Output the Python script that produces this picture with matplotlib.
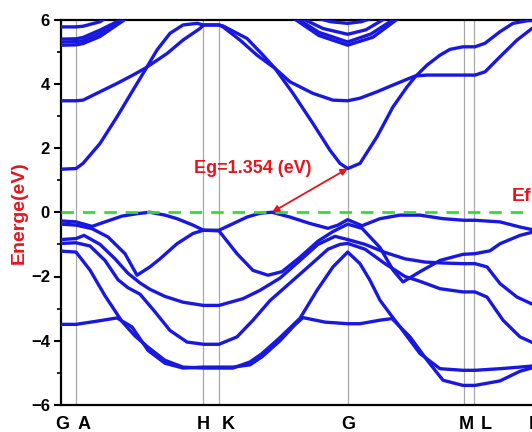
import matplotlib.pyplot as plt
import numpy as np

# k-path (arbitrary distance units) and labels
kpt_pos = [0, 15, 142.5, 158, 286.7, 403, 413, 474]
kpt_labels = ['G', 'A', 'H', 'K', 'G', 'M', 'L', 'H']
label_shift = [1, 8, 0, 9, 1, 2, 12, 0]

# conduction bands: (k, E) nodes
cb1 = [(0, 1.34), (15, 1.36), (22, 1.52), (39, 2.14), (56, 2.97), (72, 3.8), (84, 4.42), (96, 5.05),
       (109, 5.57), (122, 5.83), (136, 5.88), (142.5, 5.83), (158, 5.83), (162, 5.77), (179, 5.36),
       (196, 4.89), (214, 4.48), (232, 3.7), (252, 2.76), (269, 1.93), (279, 1.52), (286.7, 1.36),
       (299, 1.52), (316, 2.35), (332, 3.28), (346, 3.9), (354, 4.21), (366, 4.58), (379, 4.89),
       (389, 5.07), (402, 5.15), (414, 5.15), (424, 5.26), (439, 5.62), (452, 5.88), (466, 5.96), (474, 5.97)]
cb2 = [(0, 3.47), (15, 3.47), (22, 3.49), (39, 3.75), (56, 4.01), (72, 4.27), (84, 4.48), (106, 4.94),
       (122, 5.36), (139, 5.72), (142.5, 5.83), (158, 5.83), (162, 5.8), (186, 5.41), (202, 4.89),
       (214, 4.48), (229, 4.06), (252, 3.7), (272, 3.49), (286.7, 3.47), (299, 3.55), (316, 3.75),
       (332, 3.96), (354, 4.24), (366, 4.27), (402, 4.27), (414, 4.27), (424, 4.37), (439, 4.84),
       (456, 5.36), (471, 5.72), (474, 5.78)]
top1 = [(0, 5.77), (15, 5.77), (22, 5.79), (39, 5.93), (45, 6.05)]
top2 = [(0, 5.39), (15, 5.40), (22, 5.44), (39, 5.67), (56, 5.93), (62, 6.05)]
top3 = [(0, 5.30), (15, 5.31), (22, 5.34), (39, 5.57), (59, 5.93), (65, 6.05)]
top4 = [(0, 5.20), (15, 5.21), (22, 5.25), (39, 5.47), (62, 5.96), (66, 6.05)]
mid1 = [(255, 6.05), (270, 5.93), (286.7, 5.88), (300, 5.93), (312, 6.05)]
mid2 = [(240, 6.05), (262, 5.72), (286.7, 5.54), (305, 5.68), (325, 6.05)]
mid3 = [(235, 6.05), (258, 5.6), (286.7, 5.3), (310, 5.55), (335, 6.05)]
mid4 = [(232, 6.05), (258, 5.5), (286.7, 5.2), (312, 5.45), (338, 6.05)]

# valence bands
vb1 = [(0, -0.27), (15, -0.30), (31, -0.44), (44, -0.30), (61, -0.12), (77, -0.04), (89, 0.0), (104, -0.09),
       (116, -0.2), (132, -0.4), (142.5, -0.56), (158, -0.56), (169, -0.4), (186, -0.15), (199, -0.03),
       (211, 0.0), (229, -0.15), (249, -0.35), (267, -0.5), (277, -0.4), (286.7, -0.23), (301, -0.42),
       (319, -0.2), (339, -0.09), (359, -0.09), (382, -0.2), (403, -0.25), (414, -0.25), (439, -0.3),
       (459, -0.46), (474, -0.56)]
vb2 = [(0, -0.37), (15, -0.40), (31, -0.51), (47, -0.77), (64, -1.29), (76, -1.96), (89, -1.7), (99, -1.45),
       (116, -0.98), (132, -0.66), (142.5, -0.56), (158, -0.58), (176, -1.29), (192, -1.81), (207, -1.96),
       (221, -1.85), (239, -1.4), (257, -0.9), (272, -0.6), (286.7, -0.37), (301, -0.5), (319, -1.1),
       (332, -1.8), (342, -2.17), (359, -1.85), (379, -1.5), (402, -1.31), (414, -1.29), (429, -1.2),
       (439, -0.98), (459, -0.72), (474, -0.6)]
vb3 = [(0, -0.85), (15, -0.82), (23, -0.72), (39, -1.0), (54, -1.45), (67, -1.9), (79, -2.2), (89, -2.4),
       (104, -2.62), (122, -2.8), (142.5, -2.9), (158, -2.9), (182, -2.69), (199, -2.43), (219, -2.05),
       (239, -1.5), (257, -1.0), (274, -0.75), (286.7, -0.85), (304, -1.0), (324, -1.25), (344, -1.45),
       (364, -1.55), (382, -1.58), (402, -1.6), (414, -1.6), (426, -1.7), (439, -2.22), (456, -2.64), (474, -2.9)]
vb4 = [(0, -0.97), (15, -0.95), (29, -1.05), (44, -1.5), (57, -2.1), (67, -2.35), (79, -2.55), (94, -3.1),
       (109, -3.68), (126, -4.04), (142.5, -4.11), (158, -4.11), (176, -3.88), (192, -3.36), (209, -2.75),
       (229, -2.2), (249, -1.65), (267, -1.15), (279, -1.0), (286.7, -0.97), (304, -1.15), (324, -1.6),
       (344, -2.0), (359, -2.15), (379, -2.38), (402, -2.48), (414, -2.48), (426, -2.64), (442, -3.36),
       (459, -3.88), (474, -4.09)]
vb5 = [(0, -1.21), (15, -1.24), (29, -1.8), (44, -2.6), (61, -3.4), (74, -3.85), (87, -4.2), (104, -4.61),
       (122, -4.82), (142.5, -4.85), (172, -4.85), (189, -4.66), (201, -4.4), (219, -3.9), (239, -3.3),
       (256, -2.43), (272, -1.7), (286.7, -1.24), (299, -1.6), (309, -2.12), (319, -2.74), (329, -3.16),
       (339, -3.57), (359, -4.4), (379, -4.87), (402, -4.92), (414, -4.92), (439, -4.87), (459, -4.82), (474, -4.78)]
vb6 = [(0, -3.49), (15, -3.49), (34, -3.4), (56, -3.29), (71, -3.57), (87, -4.3), (104, -4.7), (122, -4.85),
       (142.5, -4.82), (172, -4.82), (189, -4.75), (201, -4.5), (219, -4.0), (234, -3.5), (242, -3.28),
       (264, -3.42), (286.7, -3.47), (299, -3.47), (319, -3.36), (331, -3.31), (349, -3.88), (366, -4.6),
       (382, -5.23), (402, -5.39), (414, -5.39), (439, -5.25), (459, -4.95), (474, -4.82)]

bands = [cb1, cb2, top1, top2, top3, top4, mid1, mid2, mid3, mid4, vb1, vb2, vb3, vb4, vb5, vb6]

vbm = (211, 0.0)
cbm = (286.7, 1.36)
gap_text = 'Eg=1.354 (eV)'

plt.rcParams['font.family'] = ['Liberation Sans', 'DejaVu Sans']
plt.rcParams['font.weight'] = 'bold'

fig = plt.figure(figsize=(5.32, 4.32), dpi=100)
ax = fig.add_axes([61 / 532, 27 / 432, 474 / 532, 385.5 / 432])

for k in kpt_pos[1:]:
    ax.axvline(k, color='#a8a8a8', lw=0.9, zorder=1)

for b in bands:
    b = np.array(b)
    ax.plot(b[:, 0], b[:, 1], color='#1818e0', lw=2.4, solid_joinstyle='round', zorder=3)

ax.axhline(0, color='#33dd33', lw=2.0, ls=(0, (4.5, 3.2)), zorder=4)

ax.annotate('', xy=vbm, xytext=cbm,
            arrowprops=dict(arrowstyle='<|-|>', color='#e8141c', lw=1.3,
                            mutation_scale=10, shrinkA=0, shrinkB=0), zorder=5)
ax.text(192, 1.37, gap_text, color='#e8141c', fontsize=13, fontweight='bold',
        ha='center', va='center')
ax.text(451, 0.5, 'Ef', color='#e8141c', fontsize=14, fontweight='bold',
        ha='left', va='center')

ax.set_xlim(0, 474)
ax.set_ylim(-6, 6)
ax.set_yticks(np.arange(-6, 7, 2))
ax.set_yticks(np.arange(-5, 6, 2), minor=True)
ax.set_yticklabels([str(v).replace('-', '\u2212') for v in range(-6, 7, 2)])
ax.set_xticks([])
ax.tick_params(axis='y', which='major', direction='out', length=5, width=1.5, labelsize=12, pad=3)
ax.tick_params(axis='y', which='minor', direction='out', length=3, width=1.2)
for s in ['left', 'bottom', 'top']:
    ax.spines[s].set_linewidth(1.6)
ax.spines['right'].set_visible(False)

for k, lab, dx in zip(kpt_pos, kpt_labels, label_shift):
    ax.text(k + dx, -6.35, lab, fontsize=13, fontweight='bold', ha='center', va='top')

ax.set_ylabel('Energe(eV)', color='#e8141c', fontsize=14, fontweight='bold', labelpad=2)

fig.savefig('out.png', dpi=100)
